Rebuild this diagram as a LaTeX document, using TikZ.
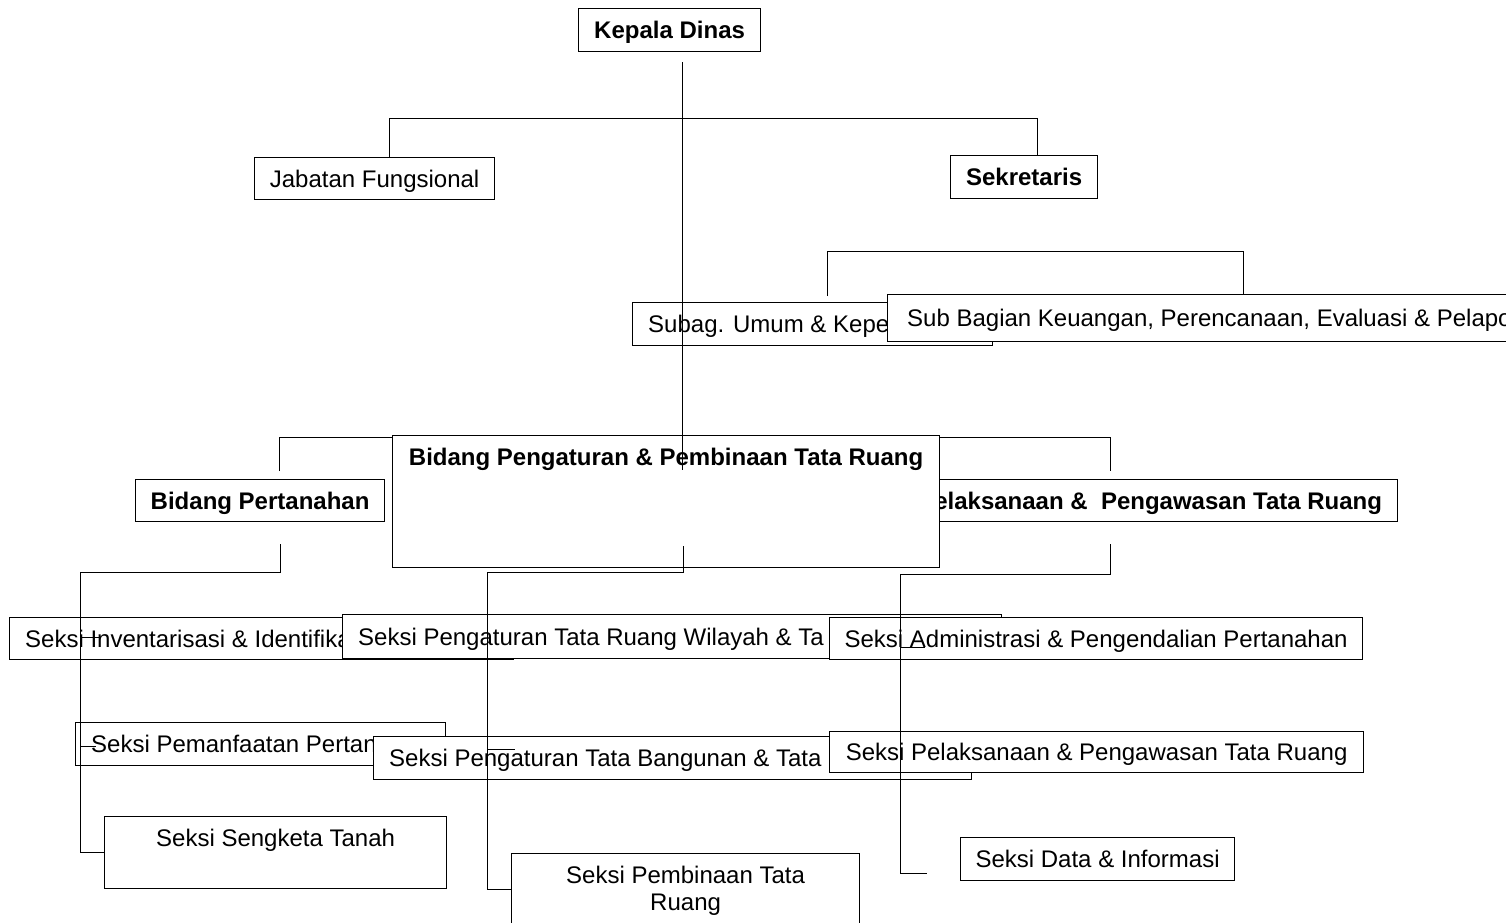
\documentclass[tikz,border=0pt]{standalone}
\usepackage{fontspec}
\setmainfont{Liberation Sans}
\tikzset{
  orgbox/.style={draw=black, line width=1.2pt, fill=white, rectangle, inner sep=0pt, anchor=north west},
  lbl/.style={font=\fontsize{24}{27}\selectfont, inner sep=0pt},
  blbl/.style={font=\fontsize{24}{27}\selectfont\bfseries, inner sep=0pt},
  conn/.style={draw=black, line width=1pt},
}
\newcommand{\obox}[5]{\node[orgbox, minimum width={#4pt-#2pt}, minimum height={#5pt-#3pt}] (#1) at (#2,#3) {};}
\begin{document}
\begin{tikzpicture}[x=1pt,y=-1pt]
\useasboundingbox (0,0) rectangle (1506,922);
\clip (0,0) rectangle (1506,922);
% named bend points
\coordinate (b1) at (389,118); \coordinate (b2) at (1037,118);
\coordinate (c1) at (827,251); \coordinate (c2) at (1243,251);
\coordinate (d1) at (279,437); \coordinate (d2) at (1110,437);
\coordinate (k1) at (682,62);  \coordinate (k2) at (682,470);
\coordinate (e1) at (280,572); \coordinate (e2) at (80,572);
\coordinate (f1) at (683,572); \coordinate (f2) at (487,572);
\coordinate (g1) at (1110,574); \coordinate (g2) at (900,574);
\coordinate (g3) at (900,873); \coordinate (g4) at (927,873);
% boxes and texts (back to front)
\obox{kepala}{578}{8}{760}{51}
\node[blbl, anchor=base] (tkepala) at ([yshift=-8.5pt]kepala.center) {Kepala Dinas};
\obox{jab}{254}{157}{494}{199}
\node[lbl, anchor=base] (tjab) at ([yshift=-8.5pt]jab.center) {Jabatan Fungsional};
\obox{sek}{950}{155}{1097}{198}
\node[blbl, anchor=base] (tsek) at ([yshift=-8.5pt]sek.center) {Sekretaris};
% connectors at the back
\draw[conn] (jab.north -| b1) -- (b1) -- (b2) -- (sek.north -| b2);
\obox{subag}{632}{302}{992}{345}
\node[lbl, anchor=base west] (tsubag) at ([xshift=16pt,yshift=-8.5pt]subag.west) {Subag. Umum \& Kepe};
\obox{subbag}{887}{294}{1540}{341}
\node[lbl, anchor=base west] (tsubbag) at ([xshift=20pt,yshift=-8.5pt]subbag.west) {Sub Bagian Keuangan, Perencanaan, Evaluasi \& Pelapo};
\draw[conn] ([yshift=6pt]subag.north -| c1) -- (c1) -- (c2) -- (subbag.north -| c2);
\obox{pertanahan}{135}{479}{384}{521}
\node[blbl, anchor=base] (tpert) at ([yshift=-8.5pt]pertanahan.center) {Bidang Pertanahan};
\obox{pelaks}{900}{479}{1397}{521}
\node[blbl, anchor=base east] (tpelaks) at ([xshift=-16pt,yshift=-8.5pt]pelaks.east) {Pelaksanaan \&\ \ Pengawasan Tata Ruang};
\draw[conn] ([yshift=8pt]pertanahan.north -| d1) -- (d1) -- (d2) -- ([yshift=8pt]pelaks.north -| d2);
\obox{pengaturan}{392}{435}{939}{567}
\node[blbl, anchor=base] (tpeng) at ([yshift=-30.5pt]pengaturan.north) {Bidang Pengaturan \& Pembinaan Tata Ruang};
% seksi row 1
\obox{inv}{9}{617}{513}{659}
\node[lbl, anchor=base west] (tinv) at ([xshift=16pt,yshift=-8.5pt]inv.west) {Seksi Inventarisasi \& Identifika};
\obox{pengtr}{342}{614}{1001}{658}
\node[lbl, anchor=base west] (tpengtr) at ([xshift=16pt,yshift=-8.5pt]pengtr.west) {Seksi Pengaturan Tata Ruang Wilayah \& Ta};
\obox{admin}{829}{617}{1362}{659}
\node[lbl, anchor=base] (tadmin) at ([yshift=-8.5pt]admin.center) {Seksi Administrasi \& Pengendalian Pertanahan};
% seksi row 2
\obox{pemanf}{75}{722}{445}{765}
\node[lbl, anchor=base west] (tpemanf) at ([xshift=16pt,yshift=-8.5pt]pemanf.west) {Seksi Pemanfaatan Pertana};
\obox{tatabang}{373}{736}{971}{779}
\node[lbl, anchor=base west] (ttatabang) at ([xshift=16pt,yshift=-8.5pt]tatabang.west) {Seksi Pengaturan Tata Bangunan \& Tata};
\obox{seksipel}{829}{731}{1363}{772}
\node[lbl, anchor=base] (tseksipel) at ([yshift=-8.5pt]seksipel.center) {Seksi Pelaksanaan \& Pengawasan Tata Ruang};
% seksi row 3
\obox{sengketa}{104}{816}{446}{888}
\node[lbl, anchor=base] (tsengketa) at ([yshift=-30.5pt]sengketa.north) {Seksi Sengketa Tanah};
\obox{pembinaan}{511}{853}{859}{925}
\node[lbl, anchor=north, align=center] (tpembinaan) at ([yshift=-12.8pt]pembinaan.north) {Seksi Pembinaan Tata\\Ruang};
\obox{data}{960}{837}{1234}{880}
\node[lbl, anchor=base] (tdata) at ([yshift=-8.5pt]data.center) {Seksi Data \& Informasi};
% connectors in front
\draw[conn] (k1) -- (k2);
\draw[conn] ([yshift=-22pt]pertanahan.south -| e1) -- (e1) -- (e2) -- (e2 |- sengketa.west) -- (sengketa.west);
\draw[conn] ([yshift=22pt]pengaturan.south -| f1) -- (f1) -- (f2) -- (f2 |- pembinaan.west) -- (pembinaan.west);
\draw[conn] ([yshift=-22pt]pelaks.south -| g1) -- (g1) -- (g2) -- (g3) -- (g4);
\coordinate (t1) at (100,637); \draw[conn] (e2 |- t1) -- (t1);
\coordinate (t2) at (96,746);  \draw[conn] (e2 |- t2) -- (t2);
\coordinate (t3) at (515,749); \draw[conn] (f2 |- t3) -- (t3);
\coordinate (t4) at (925,647); \draw[conn] (g2 |- t4) -- (t4);
\end{tikzpicture}
\end{document}
